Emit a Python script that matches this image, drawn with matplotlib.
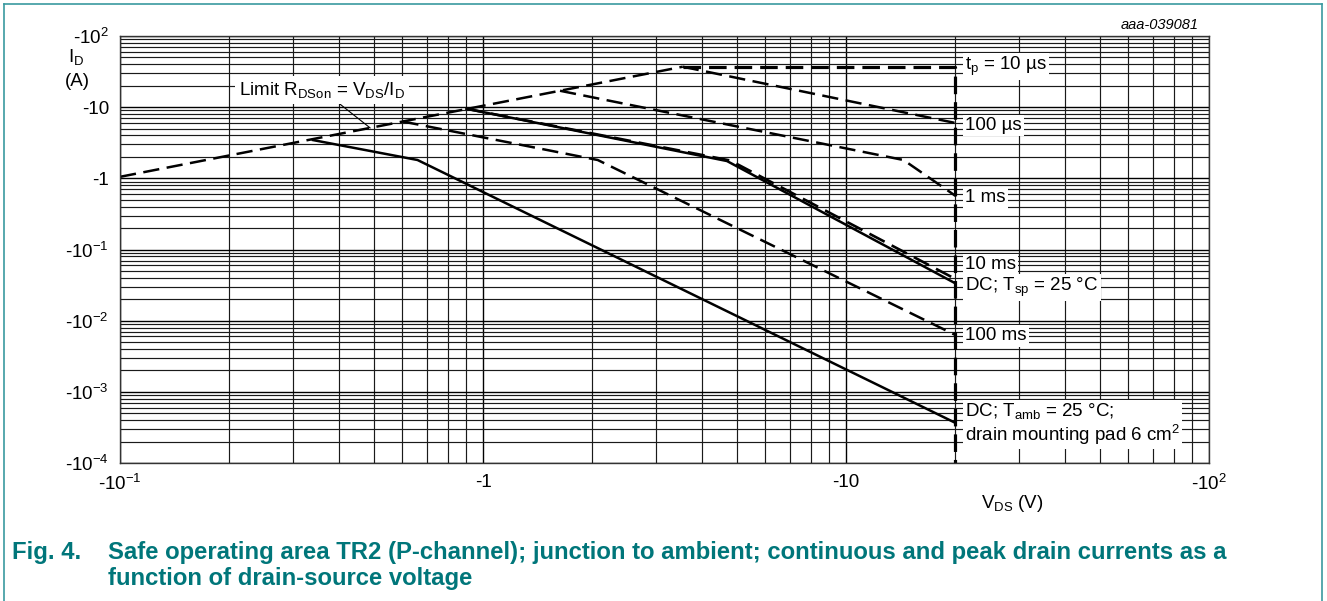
import matplotlib
matplotlib.use('Agg')
import matplotlib.pyplot as plt
from matplotlib.lines import Line2D
from matplotlib.ticker import LogLocator, NullFormatter

plt.rcParams['font.family'] = ['Liberation Sans', 'DejaVu Sans']
plt.rcParams['mathtext.fontset'] = 'custom'
plt.rcParams['mathtext.rm'] = 'Liberation Sans'
plt.rcParams['mathtext.it'] = 'Liberation Sans:italic'
plt.rcParams['mathtext.bf'] = 'Liberation Sans:bold'
plt.rcParams['mathtext.default'] = 'regular'

# valores (modulo de V_DS en V, modulo de I_D en A)
rdson_v = [0.1, 3.55]
rdson_i = [1.05, 37.0]

tp10us_v = [3.55, 20.0, 20.0]
tp10us_i = [37.0, 37.0, 1e-4]

tp100us_v = [3.55, 20.0]
tp100us_i = [37.0, 6.0]

tp1ms_v = [1.63, 14.4, 20.0]
tp1ms_i = [17.0, 1.81, 0.57]

tp10ms_v = [0.9, 4.8, 20.0]
tp10ms_i = [9.5, 1.78, 0.0386]

dc_tsp_v = [0.9, 4.7, 20.0]
dc_tsp_i = [9.5, 1.75, 0.0335]

tp100ms_v = [0.6, 2.07, 20.0]
tp100ms_i = [6.3, 1.81, 0.0063]

dc_tamb_v = [0.34, 0.66, 20.0]
dc_tamb_i = [3.45, 1.81, 3.67e-4]

x_ticks = [0.1, 1, 10, 100]
x_labels = ['-10$^{-1}$', '-1', '-10', '-10$^{2}$']
y_ticks = [1e-4, 1e-3, 1e-2, 1e-1, 1, 10, 100]
y_labels = ['-10$^{-4}$', '-10$^{-3}$', '-10$^{-2}$', '-10$^{-1}$', '-1', '-10', '-10$^{2}$']

# etiquetas de las curvas (texto, altura en A)
etiquetas = [
    ('t$_{p}$ = 10 µs', 37.0),
    ('100 µs', 5.6),
    ('1 ms', 0.53),
    ('10 ms', 0.061),
    ('DC; T$_{sp}$ = 25 °C', 0.029),
    ('100 ms', 0.0061),
]

W, H = 1327, 601
fig = plt.figure(figsize=(W / 100, H / 100), dpi=100)
ax = fig.add_axes([120 / W, 1 - 463 / H, (1209 - 120) / W, (463 - 36) / H])
ax.set_xscale('log')
ax.set_yscale('log')
ax.set_xlim(0.1, 100)
ax.set_ylim(1e-4, 100)

ax.xaxis.set_minor_locator(LogLocator(base=10, subs=range(2, 10)))
ax.yaxis.set_minor_locator(LogLocator(base=10, subs=range(2, 10)))
ax.xaxis.set_minor_formatter(NullFormatter())
ax.yaxis.set_minor_formatter(NullFormatter())
ax.set_xticks(x_ticks)
ax.set_xticklabels(x_labels)
ax.set_yticks(y_ticks)
ax.set_yticklabels(y_labels)
ax.tick_params(which='both', length=0, labelsize=13.5)
ax.tick_params(axis='x', pad=8)
ax.tick_params(axis='y', pad=8)
ax.grid(which='major', color='black', lw=1.0)
ax.grid(which='minor', color='#1a1a1a', lw=0.85)
for s in ax.spines.values():
    s.set_color('#333333')
    s.set_linewidth(1.0)

dash = (6.5, 3)
ax.plot(rdson_v, rdson_i, color='black', lw=1.8, dashes=dash)
ax.plot(tp10us_v, tp10us_i, color='black', lw=2.3, dashes=(5.5, 2.5))
ax.plot(tp100us_v, tp100us_i, color='black', lw=1.8, dashes=dash)
ax.plot(tp1ms_v, tp1ms_i, color='black', lw=1.8, dashes=dash)
ax.plot(tp10ms_v, tp10ms_i, color='black', lw=1.9, dashes=dash)
ax.plot(dc_tsp_v, dc_tsp_i, color='black', lw=1.8)
ax.plot(tp100ms_v, tp100ms_i, color='black', lw=1.8, dashes=dash)
ax.plot(dc_tamb_v, dc_tamb_i, color='black', lw=1.8)

caja = dict(facecolor='white', edgecolor='none', pad=1.5)
for texto, yv in etiquetas:
    ax.text(21.3, yv, texto, fontsize=13.5, ha='left', va='center', bbox=caja, zorder=5)
ax.text(21.3, 3.5e-4, 'DC; T$_{amb}$ = 25 °C;\ndrain mounting pad 6 cm$^{2}$',
        fontsize=13.5, ha='left', va='center', bbox=caja, zorder=5, linespacing=1.1)

ax.annotate('Limit R$_{DSon}$ = V$_{DS}$/I$_{D}$', xy=(0.489, 5.1), xytext=(0.36, 17.5),
            fontsize=13.5, ha='center', va='center', bbox=dict(facecolor='white', edgecolor='none', pad=3),
            arrowprops=dict(arrowstyle='-', color='black', lw=0.8, shrinkA=0, shrinkB=0), zorder=5)

# textos sueltos de la figura
fig.text(76 / W, 1 - 57 / H, 'I$_{D}$', fontsize=13.5, ha='center', va='center')
fig.text(77 / W, 1 - 82 / H, '(A)', fontsize=13.5, ha='center', va='center')
fig.text(1012 / W, 1 - 503 / H, 'V$_{DS}$ (V)', fontsize=13.5, ha='center', va='center')
fig.text(1199 / W, 1 - 25 / H, 'aaa-039081', fontsize=10.5, style='italic', ha='right', va='center')

teal = '#00767a'
fig.text(12 / W, 1 - 553 / H, 'Fig. 4.', fontsize=17.2, weight='bold', color=teal, ha='left', va='center')
fig.text(108 / W, 1 - 553 / H, 'Safe operating area TR2 (P-channel); junction to ambient; continuous and peak drain currents as a',
         fontsize=17.2, weight='bold', color=teal, ha='left', va='center')
fig.text(108 / W, 1 - 578 / H, 'function of drain-source voltage',
         fontsize=17.2, weight='bold', color=teal, ha='left', va='center')

# marco de la figura
marco = '#3a9aa0'
fig.add_artist(Line2D([4 / W, 4 / W], [0, 1 - 4 / H], color=marco, lw=1.2, transform=fig.transFigure))
fig.add_artist(Line2D([4 / W, 1322 / W], [1 - 4 / H, 1 - 4 / H], color=marco, lw=1.2, transform=fig.transFigure))
fig.add_artist(Line2D([1322 / W, 1322 / W], [0, 1 - 4 / H], color=marco, lw=1.2, transform=fig.transFigure))

plt.savefig('out.png', dpi=100)
